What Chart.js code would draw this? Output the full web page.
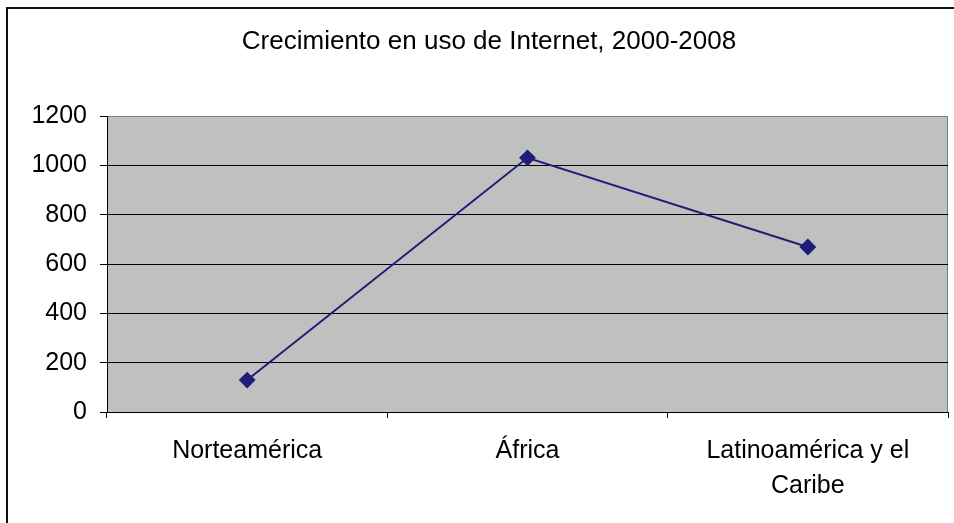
<!DOCTYPE html>
<html>
<head>
<meta charset="utf-8">
<script src="https://cdn.jsdelivr.net/npm/chart.js@4/dist/chart.umd.min.js"></script>
<style>
  html, body { margin: 0; padding: 0; background: #fff; overflow: hidden; }
  #frame {
    position: absolute; left: 6px; top: 7px;
    border-left: 2px solid #111; border-top: 2px solid #111;
  }
  #box { position: relative; width: 962px; height: 530px; }
</style>
</head>
<body>
<div id="frame"><div id="box"><canvas id="chart"></canvas></div></div>
<script>
// data
const titleText = 'Crecimiento en uso de Internet, 2000-2008';
const categories = ['Norteamérica', 'África', ['Latinoamérica y el', 'Caribe']];
const growth = [129.6, 1031.2, 669.3];
const yMin = 0;
const yMax = 1200;
const yStep = 200;

const FONT = '"Liberation Sans", Arial, sans-serif';
const navy = '#1e1e78';

// grey plot background + grey top/right frame, like the old Excel look
const plotArea = {
  id: 'plotArea',
  beforeDraw(chart) {
    const { ctx, chartArea: a } = chart;
    ctx.save();
    ctx.fillStyle = '#c0c0c0';
    ctx.fillRect(a.left, a.top, a.right - a.left, a.bottom - a.top);
    ctx.strokeStyle = '#808080';
    ctx.lineWidth = 1;
    ctx.beginPath();
    ctx.moveTo(a.left, Math.round(a.top) + 0.5);
    ctx.lineTo(Math.round(a.right) - 0.5, Math.round(a.top) + 0.5);
    ctx.lineTo(Math.round(a.right) - 0.5, a.bottom);
    ctx.stroke();
    ctx.restore();
  }
};

new Chart(document.getElementById('chart'), {
  type: 'line',
  data: {
    labels: categories,
    datasets: [{
      label: 'Crecimiento',
      data: growth,
      borderColor: navy,
      backgroundColor: navy,
      borderWidth: 2,
      pointStyle: 'rectRot',
      pointRadius: 7,
      pointHoverRadius: 7,
      tension: 0
    }]
  },
  options: {
    responsive: true,
    maintainAspectRatio: false,
    animation: false,
    layout: { padding: { left: 22, right: 22, top: 0, bottom: 0 } },
    plugins: {
      legend: { display: false },
      tooltip: { enabled: false },
      title: {
        display: true,
        text: titleText,
        color: '#000',
        font: { family: FONT, size: 26, weight: 'normal', lineHeight: 1.2 },
        padding: { top: 17, bottom: 59 }
      }
    },
    scales: {
      x: {
        offset: true,
        afterFit(scale) { scale.height = 127; },
        grid: { offset: true, drawOnChartArea: false, color: '#000', tickLength: 6 },
        border: { color: '#000', width: 1 },
        ticks: {
          color: '#000',
          padding: 16,
          maxRotation: 0,
          autoSkip: false,
          font: { family: FONT, size: 25, lineHeight: 1.38 }
        }
      },
      y: {
        min: yMin,
        max: yMax,
        afterFit(scale) { scale.width = 77; },
        grid: {
          color: (c) => (c.tick && c.tick.value === yMax ? '#808080' : '#000'),
          tickColor: '#000',
          tickLength: 7
        },
        border: { color: '#000', width: 1 },
        ticks: {
          stepSize: yStep,
          color: '#000',
          padding: 13,
          font: { family: FONT, size: 25 },
          callback: (v) => String(v)
        }
      }
    }
  },
  plugins: [plotArea]
});
</script>
</body>
</html>
